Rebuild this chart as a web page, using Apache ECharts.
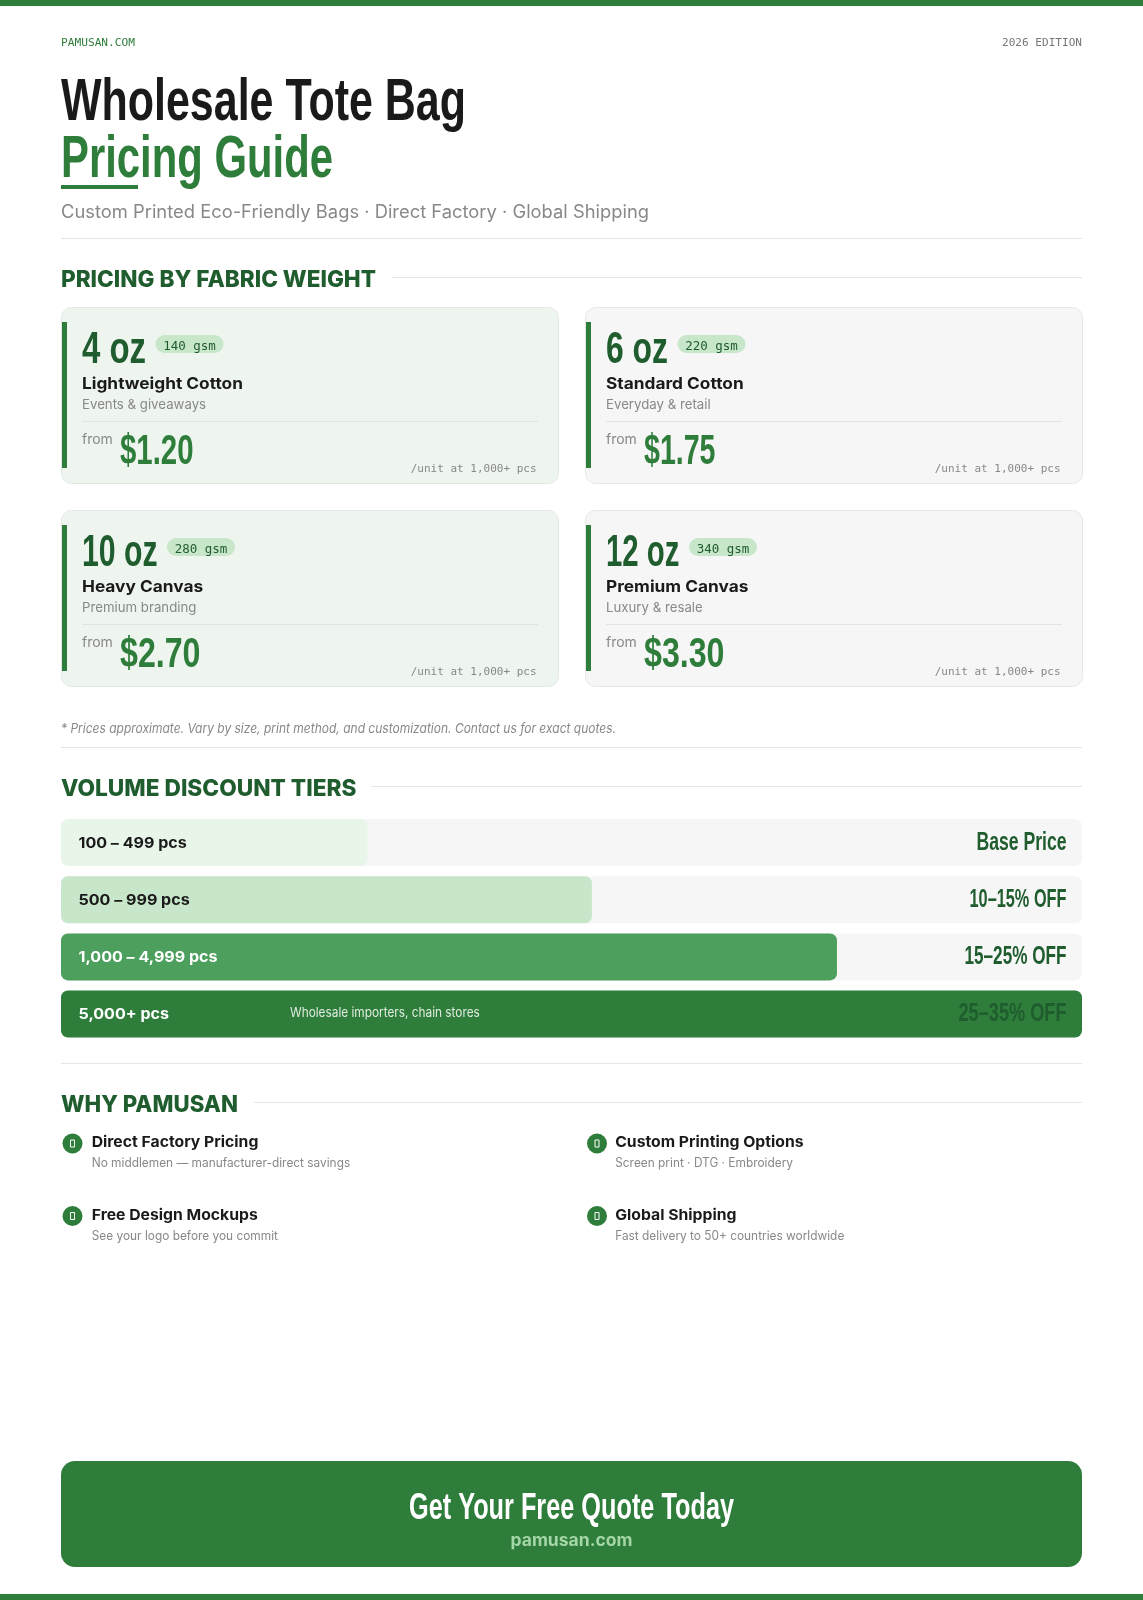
<!DOCTYPE html>
<html>
<head>
    <meta charset="utf-8">
    <title>Wholesale Tote Bag Pricing Guide</title>
    <script src="https://cdn.jsdelivr.net/npm/echarts@6/dist/echarts.min.js"></script>
    <style>
        html, body { margin: 0; padding: 0; background: #fff; }
        #main { width: 1143px; height: 1600px; }
    </style>
</head>
<body>
    <div id="main"></div>
    <script type="text/javascript">

    // fabric cards
    var fabricWeights = ['4 oz', '6 oz', '10 oz', '12 oz'];
    var fabricGsm = ['140 gsm', '220 gsm', '280 gsm', '340 gsm'];
    var fabricNames = ['Lightweight Cotton', 'Standard Cotton', 'Heavy Canvas', 'Premium Canvas'];
    var fabricUses = ['Events & giveaways', 'Everyday & retail', 'Premium branding', 'Luxury & resale'];
    var fabricPrices = ['$1.20', '$1.75', '$2.70', '$3.30'];

    // discount tiers
    var tierRanges = ['100 – 499 pcs', '500 – 999 pcs', '1,000 – 4,999 pcs', '5,000+ pcs'];
    var tierFill = [30, 52, 76, 100];
    var tierDiscounts = ['Base Price', '10–15% OFF', '15–25% OFF', '25–35% OFF'];
    var tierNotes = ['', '', '', 'Wholesale importers, chain stores'];

    // why pamusan
    var featureTitles = ['Direct Factory Pricing', 'Custom Printing Options', 'Free Design Mockups', 'Global Shipping'];
    var featureTexts = ['No middlemen — manufacturer-direct savings', 'Screen print · DTG · Embroidery', 'See your logo before you commit', 'Fast delivery to 50+ countries worldwide'];

    var GREEN = '#2e7d3a', DARK = '#1f5c2e', INK = '#1a1a1a', GREY = '#888888', RULE = '#e6e6e6';
    var NARROW = "'Liberation Sans'", SANS = 'Inter', MONO = "'DejaVu Sans Mono'";
    var tierColors = ['#e8f5e9', '#c8e6c9', '#4c9f5c', GREEN];
    var tierInk = [INK, INK, '#ffffff', '#ffffff'];

    // drawn widths of the squeezed display text
    var ozWidths = [64, 62, 75.5, 73.5];
    var priceWidths = [73.5, 71.5, 80.5, 80.5];
    var discountWidths = [90, 97, 102, 108];

    var ruler = document.createElement('canvas').getContext('2d');
    var elements = [];

    function fontOf(o) {
        return (o.italic ? 'italic ' : '') + (o.weight || 'normal') + ' ' + o.size + 'px ' + o.family;
    }

    // text by baseline; o.w squeezes it to a given width
    function text(str, x, base, o) {
        ruler.font = fontOf(o);
        ruler.textBaseline = 'middle';
        var sx = o.w ? o.w / ruler.measureText(str).width : (o.sx || 1);
        elements.push({
            type: 'text', x: x, y: base - ruler.measureText('H').actualBoundingBoxDescent, scaleX: sx,
            style: { text: str, font: fontOf(o), fill: o.color, align: o.align || 'left', verticalAlign: 'middle' }
        });
    }

    function rect(x, y, w, h, fill, r, stroke) {
        elements.push({
            type: 'rect', shape: { x: x, y: y, width: w, height: h, r: r || 0 },
            style: { fill: fill, stroke: stroke || null, lineWidth: stroke ? 1 : 0 }
        });
    }

    function section(title, base, w, ruleFrom) {
        text(title, 61, base, { family: SANS, weight: 800, size: 23, color: DARK, w: w });
        rect(ruleFrom, base - 10, 1082 - ruleFrom, 1, RULE);
    }

    // page bands and header
    rect(0, 0, 1143, 6, GREEN);
    rect(0, 1594, 1143, 6, GREEN);
    text('PAMUSAN.COM', 61, 46, { family: MONO, size: 11, color: GREEN, w: 74 });
    text('2026 EDITION', 1082, 46, { family: MONO, size: 11, color: '#777777', w: 80, align: 'right' });
    text('Wholesale Tote Bag', 61, 120, { family: NARROW, weight: 'bold', size: 59, color: INK, w: 405 });
    text('Pricing Guide', 61, 177, { family: NARROW, weight: 'bold', size: 59, color: GREEN, w: 272 });
    rect(61, 185, 77, 4, GREEN);
    text('Custom Printed Eco-Friendly Bags · Direct Factory · Global Shipping', 61, 218, { family: SANS, size: 18, color: GREY, w: 588 });
    rect(61, 238, 1021, 1, RULE);

    // fabric cards
    section('PRICING BY FABRIC WEIGHT', 287, 315, 392);
    fabricWeights.forEach(function (oz, i) {
        var dx = i % 2 * 524, dy = (i >> 1) * 203;
        var left = 82 + dx;
        var pillX = left + ozWidths[i] + 9.5;
        rect(61.5 + dx, 307.5 + dy, 497, 176, i % 2 ? '#f6f6f6' : '#eef5ef', 10, '#e4e8e4');
        rect(62 + dx, 322 + dy, 5, 146, GREEN);
        text(oz, left, 363 + dy, { family: NARROW, weight: 'bold', size: 44, color: DARK, w: ozWidths[i] });
        rect(pillX, 335 + dy, 68, 18, '#c8e6c9', 9);
        text(fabricGsm[i], pillX + 34, 349.5 + dy, { family: MONO, size: 12.5, color: DARK, align: 'center' });
        text(fabricNames[i], left, 389 + dy, { family: SANS, weight: 'bold', size: 16, color: INK, sx: 1.08 });
        text(fabricUses[i], left, 409 + dy, { family: SANS, size: 13.5, color: GREY, sx: 0.98 });
        rect(left, 421 + dy, 456, 1, '#dfe5df');
        text('from', left, 444 + dy, { family: SANS, size: 14, color: GREY });
        text(fabricPrices[i], left + 38, 464 + dy, { family: NARROW, weight: 'bold', size: 42, color: GREEN, w: priceWidths[i] });
        text('/unit at 1,000+ pcs', 536.5 + dx, 472 + dy, { family: MONO, size: 11, color: GREY, align: 'right' });
    });
    text('* Prices approximate. Vary by size, print method, and customization. Contact us for exact quotes.', 61, 733, { family: SANS, italic: true, size: 13, color: GREY, w: 555 });
    rect(61, 747, 1021, 1, RULE);

    // volume tiers: heading here, bars come from the series below
    section('VOLUME DISCOUNT TIERS', 796, 295.5, 371);
    rect(61, 1063, 1021, 1, RULE);

    // why pamusan
    section('WHY PAMUSAN', 1112, 177, 254);
    featureTitles.forEach(function (title, i) {
        var dx = i % 2 * 523.5, dy = (i >> 1) * 72.5;
        var mark = i % 2 * 524.5;
        elements.push({ type: 'circle', shape: { cx: 72.5 + mark, cy: 1143.5 + dy, r: 10 }, style: { fill: GREEN } });
        elements.push({ type: 'rect', shape: { x: 70.5 + mark, y: 1140 + dy, width: 4, height: 7 }, style: { fill: null, stroke: '#ffffff', lineWidth: 1 } });
        text(title, 91.7 + dx, 1147 + dy, { family: SANS, weight: 'bold', size: 15, color: INK, sx: 1.05 });
        text(featureTexts[i], 91.7 + dx, 1167 + dy, { family: SANS, size: 12.5, color: GREY, sx: 0.95 });
    });

    // call to action
    rect(61, 1461, 1021, 106, GREEN, 14);
    text('Get Your Free Quote Today', 571.5, 1519, { family: NARROW, weight: 'bold', size: 36, color: '#ffffff', w: 325, align: 'center' });
    text('pamusan.com', 571.5, 1546, { family: SANS, weight: 'bold', size: 17, color: '#a5d6a7', w: 122, align: 'center' });

    function renderTierText(params, api) {
        var i = api.value(1);
        var left = api.coord([0, i]), right = api.coord([100, i]);
        var discountFont = 'bold 26px ' + NARROW;
        ruler.font = discountFont;
        var kids = [
            {
                type: 'text', x: left[0] + 17.5, y: left[1] + 0.5, scaleX: 1.07,
                style: { text: tierRanges[i], font: 'bold 15px ' + SANS, fill: tierInk[i], align: 'left', verticalAlign: 'middle' }
            },
            {
                type: 'text', x: right[0] - 15.5, y: right[1], scaleX: discountWidths[i] / ruler.measureText(tierDiscounts[i]).width,
                style: { text: tierDiscounts[i], font: discountFont, fill: DARK, align: 'right', verticalAlign: 'middle' }
            }
        ];
        if (tierNotes[i]) {
            kids.push({
                type: 'text', x: left[0] + 229, y: left[1] - 1, scaleX: 0.91,
                style: { text: tierNotes[i], font: '13px ' + SANS, fill: 'rgba(255,255,255,0.85)', align: 'left', verticalAlign: 'middle' }
            });
        }
        return { type: 'group', children: kids };
    }

    var myChart = echarts.init(document.getElementById('main'));
    var option = {
        animation: false,
        grid: { left: 61, top: 814, width: 1021, height: 228.6 },
        xAxis: { type: 'value', min: 0, max: 100, show: false },
        yAxis: { type: 'category', data: tierRanges, inverse: true, show: false },
        graphic: { elements: elements },
        series: [
            {
                name: 'fill',
                type: 'bar',
                barWidth: 47,
                silent: true,
                showBackground: true,
                backgroundStyle: { color: '#f6f6f6', borderRadius: 7 },
                data: tierFill.map(function (v, i) {
                    return { value: v, itemStyle: { color: tierColors[i], borderRadius: 7 } };
                })
            },
            {
                name: 'labels',
                type: 'custom',
                silent: true,
                z: 5,
                clip: false,
                renderItem: renderTierText,
                data: tierFill.map(function (v, i) { return [v, i]; })
            }
        ]
    };
    myChart.setOption(option);

    </script>
</body>
</html>
